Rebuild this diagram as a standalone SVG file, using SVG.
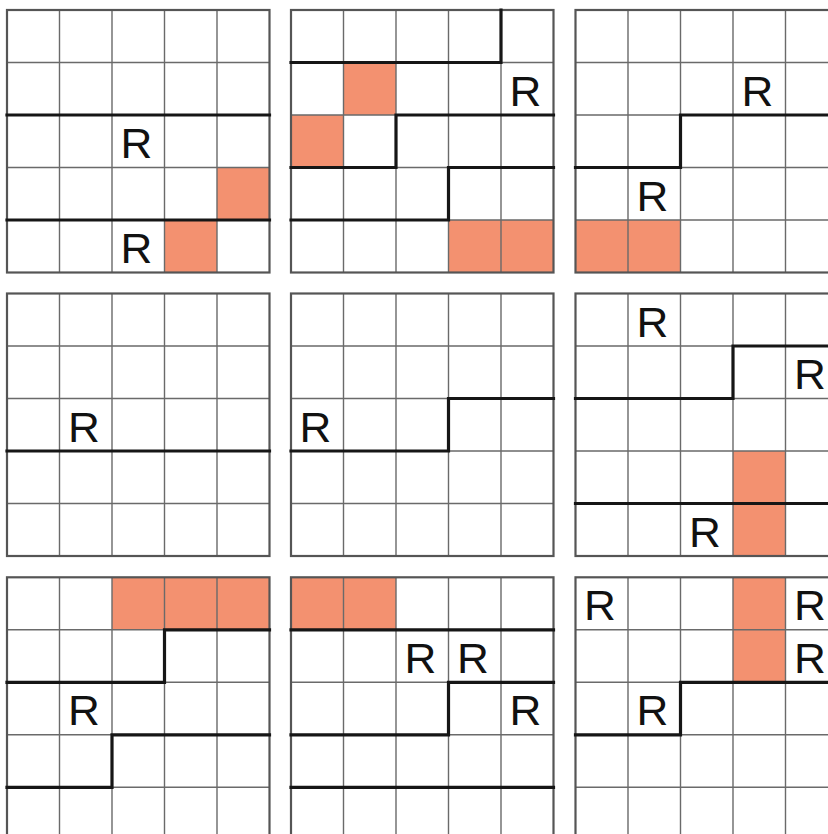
<svg xmlns="http://www.w3.org/2000/svg" xmlns:xlink="http://www.w3.org/1999/xlink" width="828" height="834" viewBox="0 0 828 834">
<style>
.bg{fill:#ffffff}
.cell{fill:#F39170}
.thin{fill:none;stroke:#6a6a6a;stroke-width:1.4}
.border{fill:none;stroke:#555555;stroke-width:2.2}
.wall{fill:none;stroke:#161616;stroke-width:3.2;stroke-linejoin:miter;stroke-linecap:square}
.r{font-family:"Liberation Sans",Arial,Helvetica,sans-serif;font-size:42px;fill:#111;text-anchor:middle}
</style>
<defs>
<g id="grid">
<path class="thin" d="M52.5 0V262.5M105 0V262.5M157.5 0V262.5M210 0V262.5M0 52.5H262.5M0 105H262.5M0 157.5H262.5M0 210H262.5"/>
<rect class="border" x="0" y="0" width="262.5" height="262.5"/>
</g>
</defs>
<rect class="bg" x="0" y="0" width="828" height="834"/>

<g id="panel1" transform="translate(7 10)">
<rect class="cell" x="210" y="157.5" width="52.5" height="52.5"/>
<rect class="cell" x="157.5" y="210" width="52.5" height="52.5"/>
<use xlink:href="#grid"/>
<path class="wall" d="M0 105H262.5M0 210H262.5"/>
<text class="r" transform="translate(129.5 148) scale(1.05 1)">R</text>
<text class="r" transform="translate(129.5 253) scale(1.05 1)">R</text>
</g>

<g id="panel2" transform="translate(291 10)">
<rect class="cell" x="52.5" y="52.5" width="52.5" height="52.5"/>
<rect class="cell" x="0" y="105" width="52.5" height="52.5"/>
<rect class="cell" x="157.5" y="210" width="105" height="52.5"/>
<use xlink:href="#grid"/>
<path class="wall" d="M0 52.5H210V0M262.5 105H105V157.5H0M262.5 157.5H157.5V210H0"/>
<text class="r" transform="translate(234.5 95.5) scale(1.05 1)">R</text>
</g>

<g id="panel3" transform="translate(575.5 10)">
<rect class="cell" x="0" y="210" width="105" height="52.5"/>
<use xlink:href="#grid"/>
<path class="wall" d="M262.5 105H105V157.5H0"/>
<text class="r" transform="translate(182 95.5) scale(1.05 1)">R</text>
<text class="r" transform="translate(77 200.5) scale(1.05 1)">R</text>
</g>

<g id="panel4" transform="translate(7 293.5)">
<use xlink:href="#grid"/>
<path class="wall" d="M0 157.5H262.5"/>
<text class="r" transform="translate(77 148) scale(1.05 1)">R</text>
</g>

<g id="panel5" transform="translate(291 293.5)">
<use xlink:href="#grid"/>
<path class="wall" d="M0 157.5H157.5V105H262.5"/>
<text class="r" transform="translate(24.5 148) scale(1.05 1)">R</text>
</g>

<g id="panel6" transform="translate(575.5 293.5)">
<rect class="cell" x="157.5" y="157.5" width="52.5" height="105"/>
<use xlink:href="#grid"/>
<path class="wall" d="M262.5 52.5H157.5V105H0M0 210H262.5"/>
<text class="r" transform="translate(77 43) scale(1.05 1)">R</text>
<text class="r" transform="translate(234.5 95.5) scale(1.05 1)">R</text>
<text class="r" transform="translate(129.5 253) scale(1.05 1)">R</text>
</g>

<g id="panel7" transform="translate(7 577.3)">
<rect class="cell" x="105" y="0" width="157.5" height="52.5"/>
<use xlink:href="#grid"/>
<path class="wall" d="M262.5 52.5H157.5V105H0M262.5 157.5H105V210H0"/>
<text class="r" transform="translate(77 148) scale(1.05 1)">R</text>
</g>

<g id="panel8" transform="translate(291 577.3)">
<rect class="cell" x="0" y="0" width="105" height="52.5"/>
<use xlink:href="#grid"/>
<path class="wall" d="M0 52.5H262.5M262.5 105H157.5V157.5H0M0 210H262.5"/>
<text class="r" transform="translate(129.5 95.5) scale(1.05 1)">R</text>
<text class="r" transform="translate(182 95.5) scale(1.05 1)">R</text>
<text class="r" transform="translate(234.5 148) scale(1.05 1)">R</text>
</g>

<g id="panel9" transform="translate(575.5 577.3)">
<rect class="cell" x="157.5" y="0" width="52.5" height="105"/>
<use xlink:href="#grid"/>
<path class="wall" d="M262.5 105H105V157.5H0"/>
<text class="r" transform="translate(24.5 43) scale(1.05 1)">R</text>
<text class="r" transform="translate(234.5 43) scale(1.05 1)">R</text>
<text class="r" transform="translate(234.5 95.5) scale(1.05 1)">R</text>
<text class="r" transform="translate(77 148) scale(1.05 1)">R</text>
</g>
</svg>
